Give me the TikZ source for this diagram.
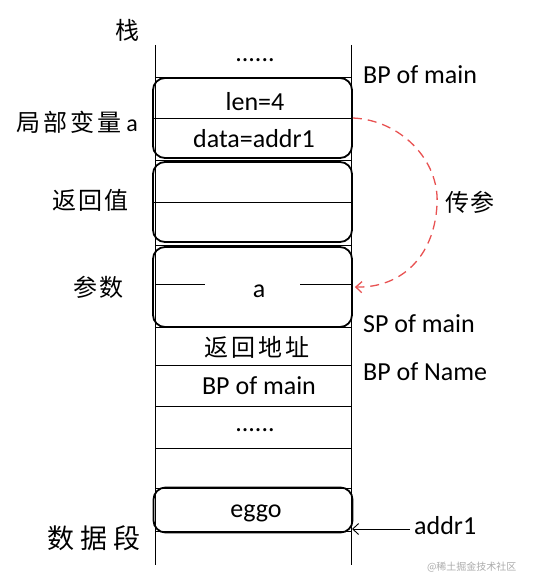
\documentclass[tikz,border=0pt]{standalone}
\usepackage{fontspec}
\setmainfont{Carlito}
\newfontfamily\cjk{Noto Sans CJK SC}
\usetikzlibrary{arrows.meta}
\begin{document}
\begin{tikzpicture}[x=1pt,y=-1pt,
  grid/.style={line width=0.9pt,black},
  box/.style={draw,line width=1.8pt,rounded corners=12pt,minimum width=199,inner sep=0pt},
  txt/.style={font=\fontsize{26}{30}\selectfont,inner sep=0pt,anchor=base},
  zh/.style={font=\cjk\fontsize{24}{28}\selectfont,inner sep=0pt,anchor=center},
  pass/.style={draw={rgb,255:red,232;green,82;blue,82},line width=1.3pt,dash pattern=on 9pt off 6pt,
     -{Straight Barb[length=6pt,width=11pt,line width=1.3pt]}},
  ptr/.style={line width=0.9pt,-{Straight Barb[length=6pt,width=11pt]}}]
\useasboundingbox (0,0) rectangle (541,578);
% column
\draw[grid] (155,45) -- (155,565);
\draw[grid] (351,45) -- (351,565);
\foreach \yy in {77,160,245,327,365,406,448,488,531}
  \draw[grid] (155,\yy) -- (351,\yy);
% boxes
\node[box,minimum height=80] (b1) at (252.5,118) {};
\node[box,minimum height=80] (b2) at (252.5,202) {};
\node[box,minimum height=80] (b3) at (252.5,287) {};
\node[box,minimum height=45] (b4) at (253,510) {};
\draw[grid] (b1.west) -- (b1.east);
\draw[grid] (b2.west) -- (b2.east);
\draw[grid] (155,284) -- (205,284);
\draw[grid] (300,284) -- (351,284);
% cell texts
\node[txt] (d1) at (255,62) {......};
\node[txt] (len) at (255,110) {len=4};
\node[txt] (data) at (254,147) {data=addr1};
\node[txt] (pa) at (259,297) {a};
\node[zh] (ra) at (257,347) {返\hspace{3pt}回\hspace{3pt}地\hspace{3pt}址};
\node[txt] (bpm) at (259,394) {BP of main};
\node[txt] (d2) at (255,431) {......};
\node[txt] (eggo) at (256,517) {eggo};
% left labels
\node[zh,anchor=east] (zhan) at (140,30) {栈};
\node[zh,anchor=east] (lv) at (138,122) {局\hspace{3pt}部\hspace{3pt}变\hspace{3pt}量\hspace{5pt}{\fontspec{Carlito}a}};
\node[zh,anchor=east] (rv) at (129,200) {返\hspace{2pt}回\hspace{2pt}值};
\node[zh,anchor=east] (cs) at (124,287) {参\hspace{2pt}数};
\node[zh,anchor=east] (sj) at (141,538) {\fontsize{27}{30}\selectfont 数\hspace{6pt}据\hspace{6pt}段};
% right labels
\node[txt,anchor=base west] (bpmain) at (363,83) {BP of main};
\node[zh] (cc) at (470,202) {传\hspace{2pt}参};
\node[txt,anchor=base west] (spmain) at (363,332) {SP of main};
\node[txt,anchor=base west] (bpname) at (363,380) {BP of Name};
\node[txt,anchor=base west] (addr) at (414,534) {addr1};
% connectors
\coordinate (s1) at (b1.east);
\coordinate (e1) at ([xshift=2pt]b3.east);
\draw[pass] (s1) .. controls (400,120) and (440,160) .. (437,205)
  .. controls (434,258) and (400,288) .. (e1);
\draw[ptr] (410,529) -- (352,529);
% watermark
\node[font=\cjk\fontsize{10}{12}\selectfont,text={rgb,255:red,170;green,170;blue,170},anchor=east] (wm) at (520,567) {@稀土掘金技术社区};
\end{tikzpicture}
\end{document}
